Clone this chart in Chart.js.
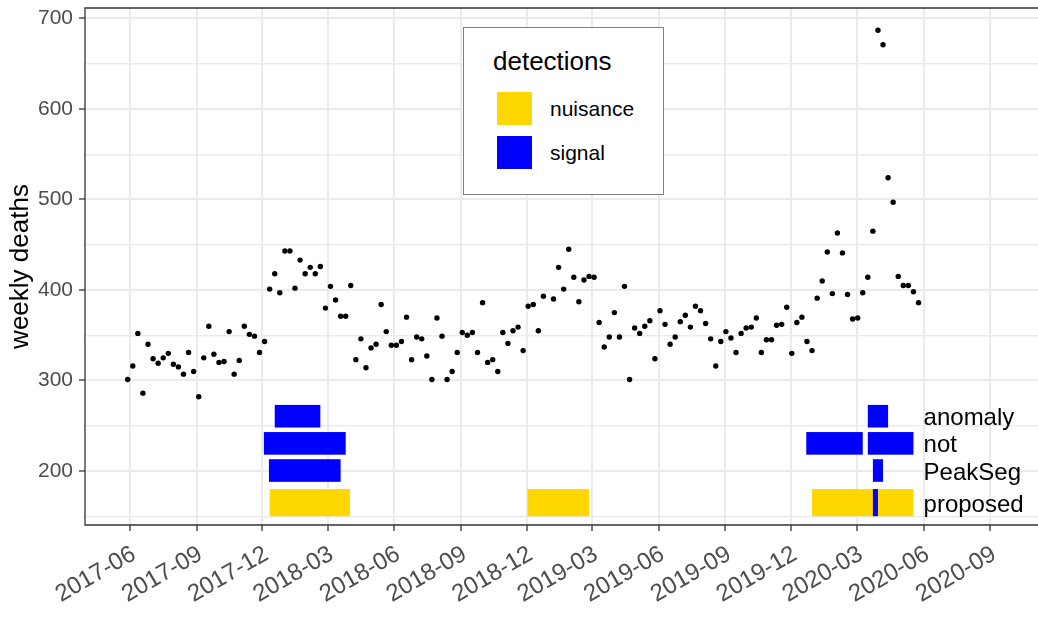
<!DOCTYPE html>
<html>
<head>
<meta charset="utf-8">
<script src="https://cdn.jsdelivr.net/npm/chart.js@4.4.1/dist/chart.umd.min.js"></script>
<style>
  body { margin: 0; background: #fff; font-family: "Liberation Sans", Arial, sans-serif; }
  .chart-container { position: relative; width: 1038px; height: 617px; }
  .chart-legend {
    position: absolute; left: 463px; top: 27px; width: 201px; height: 168px;
    box-sizing: border-box; border: 1.5px solid #7f7f7f; background: #fff;
  }
  .legend-title { position: absolute; left: 29px; top: 20px; font-size: 26px; line-height: 26px; color: #000; }
  .legend-color { position: absolute; left: 33px; width: 35px; height: 33px; }
  .legend-label { position: absolute; left: 86px; font-size: 21px; line-height: 21px; color: #000; }
</style>
</head>
<body>
<div class="chart-container">
  <canvas id="deaths-chart" width="1038" height="617"></canvas>
</div>
<script>
// semanas (início) e mortes semanais
const firstWeek = '2017-05-29';
const weeklyDeaths = [
  301, 316, 352, 286, 340, 324, 319, 325, 330, 318,
  315, 307, 331, 310, 282, 325, 360, 329, 320, 321,
  354, 307, 322, 360, 351, 349, 331, 343, 401, 418,
  397, 443, 443, 402, 433, 418, 425, 418, 426, 380,
  404, 389, 371, 371, 405, 323, 346, 314, 336, 340,
  384, 354, 339, 339, 343, 370, 323, 348, 346, 327,
  301, 369, 349, 301, 310, 331, 353, 350, 353, 331,
  386, 320, 323, 310, 353, 341, 355, 359, 333, 382,
  384, 355, 393, null, 390, 425, 401, 445, 414, 387,
  411, 415, 414, 364, 337, 348, 375, 348, 404, 301,
  358, 352, 360, 366, 324, 377, 362, 340, 348, 365,
  372, 359, 382, 377, 363, 346, 316, 343, 354, 347,
  331, 352, 358, 359, 369, 331, 345, 345, 361, 362,
  381, 330, 364, 370, 343, 333, 391, 410, 442, 396,
  463, 441, 395, 368, 369, 397, 414, 465, 687, 671,
  524, 497, 415, 405, 405, 398, 386
];

// linhas de deteção (métodos) e os seus intervalos de y
const rowNames = ['anomaly', 'not', 'PeakSeg', 'proposed'];
const rowLow = [248, 218, 188, 150];
const rowHigh = [273, 243, 213, 180];
const rowLabelDate = '2020-06-01';

// deteções
const detRow = ['anomaly', 'not', 'PeakSeg', 'proposed', 'proposed', 'anomaly', 'not', 'not', 'PeakSeg', 'proposed', 'proposed'];
const detKind = ['signal', 'signal', 'signal', 'nuisance', 'nuisance', 'signal', 'signal', 'signal', 'signal', 'nuisance', 'signal'];
const detStart = ['2017-12-18', '2017-12-03', '2017-12-10', '2017-12-11', '2018-12-02', '2020-03-16', '2019-12-22', '2020-03-16', '2020-03-23', '2019-12-30', '2020-03-23'];
const detEnd = ['2018-02-19', '2018-03-26', '2018-03-19', '2018-04-01', '2019-02-25', '2020-04-13', '2020-03-09', '2020-05-18', '2020-04-06', '2020-05-18', '2020-03-30'];

const monthTicks = ['2017-06', '2017-09', '2017-12', '2018-03', '2018-06', '2018-09', '2018-12',
  '2019-03', '2019-06', '2019-09', '2019-12', '2020-03', '2020-06', '2020-09'];
const yTicks = [150, 200, 250, 300, 350, 400, 450, 500, 550, 600, 650, 700];

const kindColors = { nuisance: '#FFD700', signal: '#0000FF' };
const DAY = 86400000;

function toTime(s) {
  const p = s.split('-').map(Number);
  return Date.UTC(p[0], p[1] - 1, p[2] || 1);
}
function monthLabel(t) {
  const d = new Date(t);
  return d.getUTCFullYear() + '-' + String(d.getUTCMonth() + 1).padStart(2, '0');
}

const points = weeklyDeaths.map((v, i) => ({ x: toTime(firstWeek) + i * 7 * DAY, y: v }));

// retângulos das deteções + rótulos dos métodos
const detectionPlugin = {
  id: 'detections',
  beforeDatasetsDraw(chart) {
    const { ctx, scales: { x, y } } = chart;
    ctx.save();
    detRow.forEach((row, i) => {
      const r = rowNames.indexOf(row);
      const x0 = x.getPixelForValue(toTime(detStart[i]));
      const x1 = x.getPixelForValue(toTime(detEnd[i]));
      const y0 = y.getPixelForValue(rowHigh[r]);
      const y1 = y.getPixelForValue(rowLow[r]);
      ctx.fillStyle = kindColors[detKind[i]];
      ctx.fillRect(x0, y0, x1 - x0, y1 - y0);
    });
    ctx.fillStyle = '#000';
    ctx.font = '24px "Liberation Sans", Arial, sans-serif';
    ctx.textAlign = 'left';
    ctx.textBaseline = 'middle';
    rowNames.forEach((name, r) => {
      ctx.fillText(name, x.getPixelForValue(toTime(rowLabelDate)),
        y.getPixelForValue((rowLow[r] + rowHigh[r]) / 2) + 2.5);
    });
    ctx.restore();
  },
  afterDraw(chart) {
    // borda do painel (à direita fica fora da imagem)
    const a = chart.chartArea;
    const ctx = chart.ctx;
    ctx.save();
    ctx.strokeStyle = '#333333';
    ctx.lineWidth = 1.3;
    ctx.beginPath();
    ctx.moveTo(a.right + 2, a.top);
    ctx.lineTo(a.left, a.top);
    ctx.lineTo(a.left, a.bottom);
    ctx.lineTo(a.right + 2, a.bottom);
    ctx.stroke();
    ctx.restore();
  }
};

Chart.defaults.font.family = '"Liberation Sans", Arial, sans-serif';

const ctx = document.getElementById('deaths-chart').getContext('2d');
const chart = new Chart(ctx, {
  type: 'scatter',
  data: {
    datasets: [{
      data: points,
      backgroundColor: '#000',
      borderWidth: 0,
      pointRadius: 2.7
    }]
  },
  options: {
    responsive: false,
    animation: false,
    layout: { autoPadding: false, padding: { top: 8, right: 0, left: 0, bottom: 0 } },
    plugins: { legend: { display: false }, tooltip: { enabled: false } },
    scales: {
      x: {
        type: 'linear',
        min: toTime('2017-03-31'),
        max: toTime('2020-11-06'),
        afterBuildTicks(scale) {
          scale.ticks = monthTicks.map(m => ({ value: toTime(m) }));
        },
        afterFit(scale) {
          scale.height = 92;
          scale.paddingLeft = 0;
          scale.paddingRight = 0;
        },
        border: { display: false },
        grid: { color: '#EBEBEB', lineWidth: 2, tickLength: 6, tickColor: '#333333', tickWidth: 1.3 },
        ticks: {
          autoSkip: false, minRotation: 30, maxRotation: 30, padding: 9, labelOffset: 4,
          color: '#4D4D4D', font: { size: 24 },
          callback: v => monthLabel(v)
        }
      },
      y: {
        min: 140.3,
        max: 711.6,
        afterBuildTicks(scale) {
          scale.ticks = yTicks.map(v => ({ value: v }));
        },
        afterFit(scale) {
          scale.width = 85;
          scale.paddingTop = 0;
          scale.paddingBottom = 0;
        },
        border: { display: false },
        title: { display: true, text: 'weekly deaths', color: '#000', font: { size: 26 }, padding: { top: 5, bottom: 0 } },
        grid: {
          color: '#EBEBEB',
          lineWidth: c => (c.tick && c.tick.value % 100 === 0 ? 2 : 1.4),
          tickLength: 6,
          tickWidth: 1.3,
          tickColor: c => (c.tick && c.tick.value % 100 === 0 ? '#333333' : 'rgba(0,0,0,0)')
        },
        ticks: {
          padding: 6, color: '#4D4D4D', font: { size: 21 },
          callback: v => (v % 100 === 0 ? String(v) : '')
        }
      }
    }
  },
  plugins: [detectionPlugin]
});

// legenda personalizada
function createCustomLegend() {
  const legend = document.createElement('div');
  legend.className = 'chart-legend';
  const title = document.createElement('div');
  title.className = 'legend-title';
  title.textContent = 'detections';
  legend.appendChild(title);
  Object.entries(kindColors).forEach(([kind, color], i) => {
    const box = document.createElement('div');
    box.className = 'legend-color';
    box.style.top = (64 + i * 43.5) + 'px';
    box.style.backgroundColor = color;
    const label = document.createElement('div');
    label.className = 'legend-label';
    label.style.top = (70 + i * 43.5) + 'px';
    label.textContent = kind;
    legend.appendChild(box);
    legend.appendChild(label);
  });
  document.querySelector('.chart-container').appendChild(legend);
}
createCustomLegend();
</script>
</body>
</html>
